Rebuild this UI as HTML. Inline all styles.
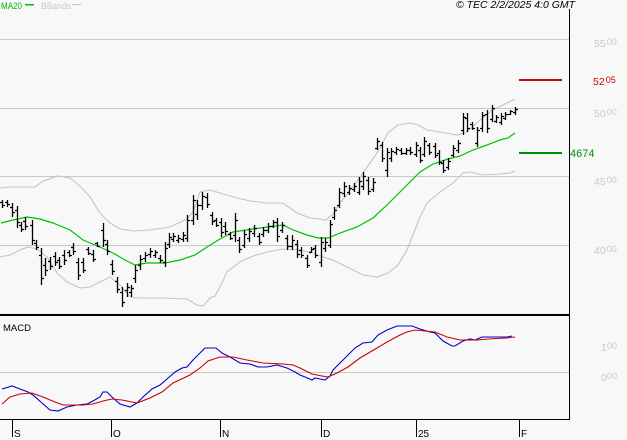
<!DOCTYPE html>
<html><head><meta charset="utf-8"><style>
html,body{margin:0;padding:0;background:#f8f8f8;}
svg{display:block;font-family:"Liberation Sans",sans-serif;}
</style></head><body>
<svg width="627" height="440" viewBox="0 0 627 440" xmlns="http://www.w3.org/2000/svg">
<rect width="627" height="440" fill="#f8f8f8"/>
<g stroke="#c8c8c8" stroke-width="1" shape-rendering="crispEdges">
<line x1="0" y1="39.5" x2="569" y2="39.5"/>
<line x1="0" y1="108.5" x2="569" y2="108.5"/>
<line x1="0" y1="176.5" x2="569" y2="176.5"/>
<line x1="0" y1="245.5" x2="569" y2="245.5"/>
<line x1="0" y1="372.5" x2="569" y2="372.5"/>
</g>
<g fill="none" stroke="#c4c4c4" stroke-width="1.1">
<polyline points="0,188 10,187 35,187 43,181 58,176 70,178 80,186 90,197 100,213 110,223 120,229 133,231 150,230 170,227 187,219 193,212 200,192 210,190 220,193 227,195 237,198 250,201 267,203 283,203 297,213 310,218 320,219 326,220 333,214 340,203 347,195 355,184 363,173 377,153 388,133 398,125 410,123 418,125 427,130 440,132 457,135 467,132 480,120 493,110 507,103 515,99"/>
<polyline points="0,257 10,255 20,250 28,247 37,249 47,257 57,273 67,282 80,288 90,287 100,282 110,277 120,285 130,297 140,298 160,298 187,299 197,305 203,306 210,298 215,296 220,287 227,272 240,262 253,256 267,252 283,249 297,250 310,252 323,257 333,260 347,267 363,275 377,277 388,273 398,265 407,250 420,217 427,203 440,192 453,183 463,173 470,172 483,175 500,174 510,173 515,171"/>
</g>
<polyline fill="none" stroke="#00c000" stroke-width="1.2" points="1,223 13,220 27,217 40,219 53,223 70,230 83,240 100,247 113,253 125,260 135,265 147,263 165,263 180,260 195,255 207,247 220,239 233,232 253,229 267,227 283,225 293,230 307,235 318,238 328,238 340,233 357,227 373,218 386,206 400,192 420,172 433,164 448,159 460,156 473,150 487,145 500,140 508,138 515,133"/>
<path fill="none" stroke="#000" stroke-width="1.3" d="
M2.5 200V208M0 202.5h2M3 205.5h2
M7.5 200V207M5 202.5h2M8 204.5h2
M12.5 203V217M10 207.5h2M13 212.5h2
M17.5 206V228M15 210.5h2M18 222.5h2
M21.5 222V232M19 225.5h2M22 229.5h2
M25.5 217V230M23 221.5h2M26 226.5h2
M32.5 220V245M30 225.5h2M33 240.5h2
M36.5 240V250M34 243.5h2M37 247.5h2
M41.5 248V285M39 255.5h2M42 278.5h2
M45.5 258V276M43 265.5h2M46 270.5h2
M50.5 257V270M48 261.5h2M51 266.5h2
M55.5 252V266M53 256.5h2M56 262.5h2
M59.5 257V269M57 260.5h2M60 266.5h2
M64.5 250V265M62 255.5h2M65 260.5h2
M69.5 250V257M67 252.5h2M70 255.5h2
M73.5 243V255M71 247.5h2M74 251.5h2
M78.5 258V280M76 262.5h2M79 275.5h2
M83.5 258V273M81 262.5h2M84 270.5h2
M88.5 247V255M86 249.5h2M89 253.5h2
M93.5 250V262M91 254.5h2M94 259.5h2
M97.5 242V247M95 243.5h2M98 246.5h2
M103.5 223V247M101 230.5h2M104 240.5h2
M107.5 240V255M105 244.5h2M108 251.5h2
M112.5 260V275M110 264.5h2M113 271.5h2
M117.5 277V293M115 281.5h2M118 289.5h2
M122.5 287V307M120 292.5h2M123 302.5h2
M127.5 283V297M125 290.5h2M128 287.5h2
M131.5 285V297M129 292.5h2M132 288.5h2
M135.5 265V283M133 278.5h2M136 270.5h2
M140.5 255V270M138 265.5h2M141 259.5h2
M145.5 252V262M143 258.5h2M146 255.5h2
M150.5 248V258M148 254.5h2M151 251.5h2
M155.5 250V258M153 255.5h2M156 252.5h2
M160.5 255V263M158 258.5h2M161 260.5h2
M165.5 242V267M163 262.5h2M166 248.5h2
M169.5 233V248M167 244.5h2M170 237.5h2
M173.5 233V242M171 239.5h2M174 236.5h2
M178.5 235V243M176 240.5h2M179 238.5h2
M183.5 232V242M181 239.5h2M184 235.5h2
M187.5 215V242M185 238.5h2M188 220.5h2
M193.5 195V225M191 220.5h2M194 200.5h2
M197.5 200V220M195 214.5h2M198 205.5h2
M202.5 192V210M200 205.5h2M203 196.5h2
M207.5 193V208M205 197.5h2M208 204.5h2
M212.5 212V225M210 215.5h2M213 221.5h2
M216.5 218V227M214 220.5h2M217 225.5h2
M221.5 218V237M219 222.5h2M222 232.5h2
M225.5 222V235M223 226.5h2M226 231.5h2
M230.5 232V240M228 234.5h2M231 238.5h2
M235.5 213V242M233 235.5h2M236 220.5h2
M239.5 237V253M237 240.5h2M240 249.5h2
M244.5 230V248M242 245.5h2M245 234.5h2
M249.5 228V242M247 238.5h2M250 231.5h2
M254.5 225V237M252 233.5h2M255 228.5h2
M259.5 233V245M257 236.5h2M260 242.5h2
M263.5 227V237M261 234.5h2M264 230.5h2
M268.5 223V233M266 230.5h2M269 226.5h2
M273.5 220V228M271 226.5h2M274 222.5h2
M277.5 218V242M275 222.5h2M278 236.5h2
M282.5 222V233M280 230.5h2M283 225.5h2
M287.5 235V250M285 238.5h2M288 246.5h2
M292.5 235V250M290 246.5h2M293 240.5h2
M297.5 240V258M295 244.5h2M298 254.5h2
M301.5 247V258M299 250.5h2M302 255.5h2
M307.5 255V268M305 258.5h2M308 265.5h2
M311.5 247V253M309 252.5h2M312 249.5h2
M315.5 245V258M313 248.5h2M316 255.5h2
M321.5 237V267M319 262.5h2M322 242.5h2
M325.5 238V252M323 248.5h2M326 242.5h2
M330.5 220V248M328 245.5h2M331 224.5h2
M334.5 207V220M332 217.5h2M335 210.5h2
M339.5 188V208M337 205.5h2M340 192.5h2
M344.5 182V197M342 193.5h2M345 186.5h2
M349.5 185V195M347 192.5h2M350 188.5h2
M354.5 183V192M352 189.5h2M355 186.5h2
M359.5 177V195M357 192.5h2M360 181.5h2
M363.5 172V190M361 186.5h2M364 176.5h2
M368.5 177V195M366 180.5h2M369 191.5h2
M373.5 178V192M371 189.5h2M374 182.5h2
M377.5 138V150M375 148.5h2M378 141.5h2
M382.5 142V162M380 145.5h2M383 158.5h2
M387.5 148V177M385 170.5h2M388 152.5h2
M391.5 148V162M389 158.5h2M392 151.5h2
M396.5 147V155M394 152.5h2M397 149.5h2
M401.5 148V155M399 150.5h2M402 153.5h2
M406.5 148V155M404 153.5h2M407 150.5h2
M410.5 147V155M408 150.5h2M411 152.5h2
M416.5 142V157M414 154.5h2M417 145.5h2
M420.5 147V163M418 150.5h2M421 160.5h2
M424.5 137V157M422 154.5h2M425 141.5h2
M429.5 143V155M427 145.5h2M430 152.5h2
M435.5 143V158M433 146.5h2M436 155.5h2
M439.5 150V165M437 153.5h2M440 162.5h2
M443.5 160V173M441 163.5h2M444 170.5h2
M448.5 158V170M446 167.5h2M449 161.5h2
M453.5 145V157M451 155.5h2M454 148.5h2
M458.5 140V153M456 150.5h2M459 143.5h2
M463.5 113V135M461 130.5h2M464 117.5h2
M467.5 113V132M465 118.5h2M468 128.5h2
M472.5 122V130M470 124.5h2M473 128.5h2
M477.5 127V147M475 143.5h2M478 130.5h2
M482.5 112V132M480 128.5h2M483 115.5h2
M487.5 110V133M485 114.5h2M488 128.5h2
M492.5 105V122M490 119.5h2M493 108.5h2
M496.5 115V123M494 121.5h2M497 117.5h2
M501.5 113V125M499 122.5h2M502 116.5h2
M505.5 112V120M503 118.5h2M506 114.5h2
M510.5 110V115M508 114.5h2M511 111.5h2
M515.5 107V115M513 112.5h2M516 109.5h2"/>
<rect x="519" y="79" width="43" height="2" fill="#cc0000"/>
<rect x="519" y="152" width="43" height="2" fill="#009000"/>
<polyline fill="none" stroke="#0000cc" stroke-width="1.1" points="2,389 12,386 20,389 28,392 33,395 42,403 50,410 58,411 67,407 77,405 87,404 93,401 100,397 103,392 107,392 112,397 120,404 130,407 137,403 143,397 152,389 160,385 167,379 175,372 182,368 187,367 193,360 200,353 205,348 216,348 222,353 230,357 240,363 250,364 258,367 267,367 277,365 287,368 295,372 300,375 305,377 312,380 315,378 320,379 325,380 330,376 333,370 340,363 347,356 355,348 363,343 372,342 378,335 387,330 397,326 412,326 420,329 430,332 435,333 443,341 452,346 455,346 463,341 470,339 475,340 482,337 507,337 512,336"/>
<polyline fill="none" stroke="#cc0000" stroke-width="1.1" points="2,404 10,397 20,394 32,393 43,397 55,402 63,405 83,405 93,404 103,401 112,399 122,400 132,402 137,403 150,398 162,392 173,383 190,375 200,368 208,361 220,357 233,357 247,360 263,363 283,364 293,365 300,368 312,374 322,376 328,377 337,373 348,367 360,358 377,348 387,342 400,335 407,332 415,330 435,332 447,337 460,340 477,340 488,339 507,338 515,337"/>
<g fill="#000" shape-rendering="crispEdges">
<rect x="569" y="9" width="1" height="411"/>
<rect x="0" y="314" width="570" height="2"/>
<rect x="0" y="419" width="570" height="1"/>
<rect x="12" y="419" width="1" height="18"/>
<rect x="111" y="419" width="1" height="18"/>
<rect x="220" y="419" width="1" height="18"/>
<rect x="321" y="419" width="1" height="18"/>
<rect x="416" y="419" width="1" height="18"/>
<rect x="519" y="419" width="1" height="18"/>
</g>
<text x="1" y="9" font-size="9" fill="#00b400" textLength="21" lengthAdjust="spacingAndGlyphs">MA20</text>
<rect x="25" y="4" width="9" height="1.5" fill="#00c000"/>
<text x="41" y="9" font-size="9" fill="#c8c8c8" textLength="30" lengthAdjust="spacingAndGlyphs">BBands</text>
<rect x="72" y="4" width="9" height="1.2" fill="#c8c8c8"/>
<text x="456" y="8" font-size="10" font-style="italic" fill="#000" textLength="119" lengthAdjust="spacingAndGlyphs">© TEC 2/2/2025 4:0 GMT</text>
<text x="3" y="331" font-size="9.5" fill="#000" textLength="28" lengthAdjust="spacingAndGlyphs">MACD</text>
<g font-size="10.5" fill="#c8c8c8">
<text x="594" y="47">55<tspan font-size="9" dy="-2" dx="1">00</tspan></text>
<text x="594" y="117">50<tspan font-size="9" dy="-2" dx="1">00</tspan></text>
<text x="594" y="185">45<tspan font-size="9" dy="-2" dx="1">00</tspan></text>
<text x="594" y="254">40<tspan font-size="9" dy="-2" dx="1">00</tspan></text>
<text x="601" y="351">1<tspan x="607" font-size="9" dy="-2">00</tspan></text>
<text x="601" y="381">0<tspan x="607" font-size="9" dy="-2">00</tspan></text>
</g>
<text x="593" y="85" font-size="10.5" fill="#cc0000">52<tspan font-size="9" dy="-2" dx="1">05</tspan></text>
<text x="570" y="157" font-size="11" fill="#009000">4674</text>
<g font-size="10" fill="#000">
<text x="14" y="437">S</text>
<text x="113" y="437">O</text>
<text x="222" y="437">N</text>
<text x="323" y="437">D</text>
<text x="418" y="437">25</text>
<text x="521" y="437">F</text>
</g>
</svg>
</body></html>
